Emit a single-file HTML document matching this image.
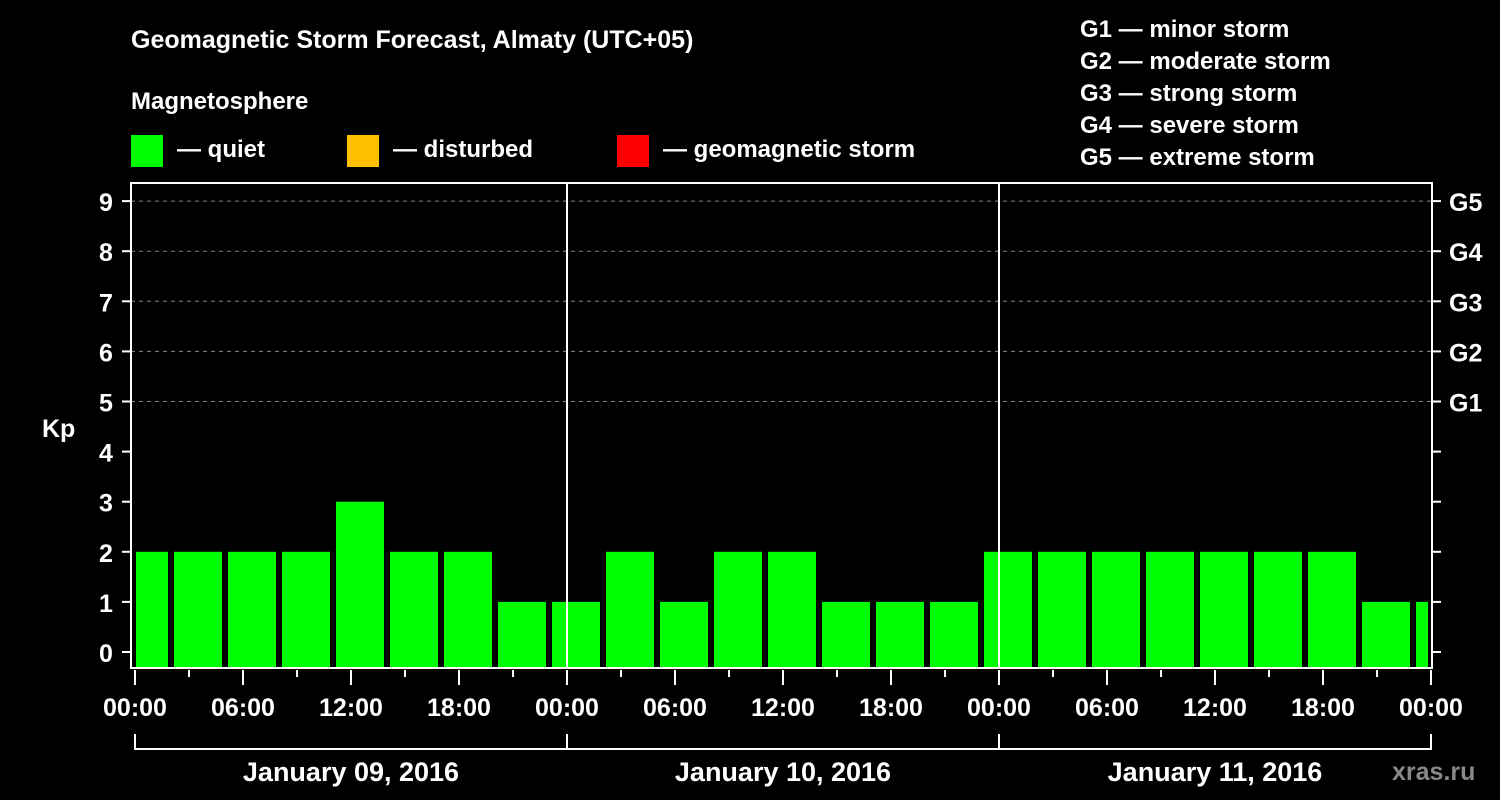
<!DOCTYPE html>
<html><head><meta charset="utf-8"><style>
html,body{margin:0;padding:0;background:#000;}
svg{display:block;font-family:"Liberation Sans",Arial,sans-serif;font-weight:bold;}
</style></head><body>
<svg id="chart" width="1500" height="800" viewBox="0 0 1500 800">
<rect x="0" y="0" width="1500" height="800" fill="#000"/>
<text x="131" y="48" fill="#fff" font-size="25">Geomagnetic Storm Forecast, Almaty (UTC+05)</text>
<text x="131" y="109" fill="#fff" font-size="24">Magnetosphere</text>
<g><rect x="131" y="135" width="32" height="32" fill="#00ff00"/><text x="177" y="157" fill="#fff" font-size="24">— quiet</text></g>
<g><rect x="347" y="135" width="32" height="32" fill="#ffc000"/><text x="393" y="157" fill="#fff" font-size="24">— disturbed</text></g>
<g><rect x="617" y="135" width="32" height="32" fill="#ff0000"/><text x="663" y="157" fill="#fff" font-size="24">— geomagnetic storm</text></g>
<g fill="#fff" font-size="24">
<text x="1080" y="37">G1 — minor storm</text>
<text x="1080" y="69">G2 — moderate storm</text>
<text x="1080" y="101">G3 — strong storm</text>
<text x="1080" y="133">G4 — severe storm</text>
<text x="1080" y="165">G5 — extreme storm</text>
</g>
<text x="42" y="437" fill="#fff" font-size="25">Kp</text>
<g id="grid"></g>
<g id="bars"></g>
<g id="axes"></g>
<text x="1392" y="780" fill="#888" font-size="25">xras.ru</text>
</svg>
<script>
const kpValues = [2,2,2,2,3,2,2,1, 1,2,1,2,2,1,1,1, 2,2,2,2,2,2,2,1, 1];
const barHours = [0.5,3.5,6.5,9.5,12.5,15.5,18.5,21.5, 24.5,27.5,30.5,33.5,36.5,39.5,42.5,45.5, 48.5,51.5,54.5,57.5,60.5,63.5,66.5,69.5, 72.5];
const yTicks = [0,1,2,3,4,5,6,7,8,9];
const gLabels = ["G1","G2","G3","G4","G5"];
const gLevels = [5,6,7,8,9];
const xTickLabels = ["00:00","06:00","12:00","18:00","00:00","06:00","12:00","18:00","00:00","06:00","12:00","18:00","00:00"];
const dayLabels = ["January 09, 2016","January 10, 2016","January 11, 2016"];

const NS="http://www.w3.org/2000/svg";
const X0=135, PXH=18, Y0=652, PXU=50.1;
const L=131, R=1432, T=183, B=668, CL=136, CR=1428;
const x = h => X0 + h*PXH;
const y = v => Y0 - v*PXU;
function mk(tag, parent, attrs){const e=document.createElementNS(NS,tag);for(const k in attrs)e.setAttribute(k,attrs[k]);parent.appendChild(e);return e;}
const grid=document.getElementById('grid'), bars=document.getElementById('bars'), axes=document.getElementById('axes');

gLevels.forEach((lv,i)=>{
  const l=mk('line',grid,{x1:L,x2:R,y1:y(lv),y2:y(lv),stroke:'#888','stroke-dasharray':'4,4','stroke-width':1});
  
  
  const t=mk('text',axes,{x:1449,y:y(lv)+10,fill:'#fff','font-size':25});
  t.textContent=gLabels[i];
  
  
});

kpValues.forEach((v,i)=>{
  const c=x(barHours[i]);
  let a=Math.max(c-24,CL), b=Math.min(c+24,CR);
  if(b<=a) return;
  const r=mk('rect',bars,{x:a,y:y(v),width:b-a,height:B-y(v),fill:'#00ff00'});
  
  
});

// frame
const fr=mk('rect',axes,{x:L,y:T,width:R-L,height:B-T,fill:'none',stroke:'#fff','stroke-width':2});


[24,48].forEach(h=>{
  const l=mk('line',axes,{x1:x(h),x2:x(h),y1:T,y2:B,stroke:'#fff','stroke-width':2});
  
  
});

yTicks.forEach(v=>{
  mk('line',axes,{x1:122,x2:L,y1:y(v),y2:y(v),stroke:'#fff','stroke-width':2});
  mk('line',axes,{x1:R,x2:1441,y1:y(v),y2:y(v),stroke:'#fff','stroke-width':2});
  const t=mk('text',axes,{x:106,y:y(v)+10,fill:'#fff','font-size':25,'text-anchor':'middle'});
  t.textContent=v;
  
  
});

for(let h=0;h<=72;h+=3){
  const major=h%6===0;
  mk('line',axes,{x1:x(h),x2:x(h),y1:670,y2:major?685:677,stroke:'#fff','stroke-width':2});
}
xTickLabels.forEach((s,i)=>{
  const t=mk('text',axes,{x:x(i*6),y:716,fill:'#fff','font-size':25,'text-anchor':'middle'});
  t.textContent=s;
  
  
});

mk('line',axes,{x1:x(0),x2:x(72),y1:749,y2:749,stroke:'#fff','stroke-width':2});
[0,24,48,72].forEach(h=>mk('line',axes,{x1:x(h),x2:x(h),y1:734,y2:750,stroke:'#fff','stroke-width':2}));
dayLabels.forEach((s,i)=>{
  const t=mk('text',axes,{x:x(i*24+12),y:781,fill:'#fff','font-size':27,'text-anchor':'middle'});
  t.textContent=s;
  
  
});
</script>
</body></html>
